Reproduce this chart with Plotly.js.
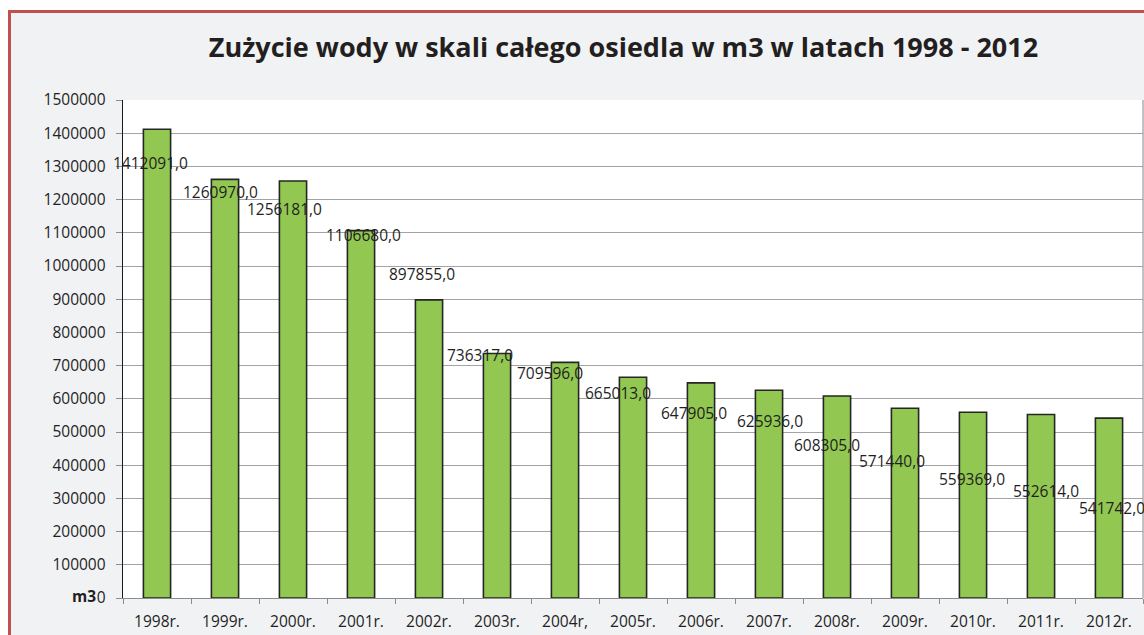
<!DOCTYPE html>
<html>
<head>
<meta charset="utf-8">
<script src="https://cdn.plot.ly/plotly-3.0.1.min.js"></script>
<style>
  html, body { margin: 0; padding: 0; background: #ffffff; overflow: hidden; }
  #frame { position: absolute; left: 8px; top: 10px; width: 1200px; height: 700px;
           border: 3px solid #c0504d; background: #f1f2f4; box-sizing: border-box; }
  #chart { position: absolute; left: 0; top: 0; width: 1144px; height: 635px; }
</style>
</head>
<body>
<div id="frame"></div>
<div id="chart"></div>
<script>
// ---- data ----
const categories = ["1998r.", "1999r.", "2000r.", "2001r.", "2002r.", "2003r.", "2004r,", "2005r.",
                    "2006r.", "2007r.", "2008r.", "2009r.", "2010r.", "2011r.", "2012r."];
const waterUse = [1412091, 1260970, 1256181, 1106680, 897855, 736317, 709596, 665013,
                  647905, 625936, 608305, 571440, 559369, 552614, 541742];
const yTickValues = [0, 100000, 200000, 300000, 400000, 500000, 600000, 700000, 800000,
                     900000, 1000000, 1100000, 1200000, 1300000, 1400000, 1500000];

// label placement offsets (pixels) as in the original
const labelDx = [-7, -5, -9, 2, -7, -17, -15, -15, -7, 1, -10, -13, -1, 5, 3];
const labelDy = [-34, -13, -28, -4, 26, -1, -11, -16, -30, -31, -49, -53, -67, -76, -90];

const fmt = v => String(v) + ",0";
const FONT = 'Open Sans, sans-serif';
const TXT = '#1f1f1f';

const annotations = waterUse.map((v, i) => ({
  x: categories[i], y: v, xref: 'x', yref: 'y',
  text: fmt(v), showarrow: false,
  xanchor: 'center', yanchor: 'middle',
  xshift: labelDx[i], yshift: labelDy[i],
  font: {family: FONT, size: 15.5, color: TXT}
}));
annotations.push({
  x: -0.0245, xref: 'paper', y: 0, yref: 'y', xanchor: 'right', yanchor: 'middle',
  yshift: 2, text: '<b>m3</b>', showarrow: false,
  font: {family: FONT, size: 15.5, color: TXT}
});

const trace = {
  type: 'bar',
  x: categories,
  y: waterUse,
  marker: {color: '#92c852', line: {color: '#262626', width: 1.6}},
  hoverinfo: 'x+y'
};

const layout = {
  width: 1144, height: 635,
  margin: {l: 123, r: 1, t: 100, b: 37, pad: 0},
  paper_bgcolor: 'rgba(0,0,0,0)',
  plot_bgcolor: '#ffffff',
  bargap: 0.6,
  showlegend: false,
  title: {
    text: 'Zużycie wody w skali całego osiedla w m3 w latach 1998 - 2012',
    font: {family: FONT, size: 27, color: '#231f20', weight: 'bold'},
    x: 0.545, xanchor: 'center', y: 0.925, yanchor: 'middle'
  },
  xaxis: {
    type: 'category',
    range: [-0.5, 14.5],
    automargin: false,
    showline: true, linecolor: '#8c8c8c', linewidth: 1,
    ticks: 'outside', tickson: 'boundaries', ticklen: 5, tickcolor: '#8c8c8c',
    showgrid: false, zeroline: false,
    tickfont: {family: FONT, size: 15.5, color: TXT},
    ticklabelstandoff: 9
  },
  yaxis: {
    range: [0, 1500000],
    automargin: false,
    tickvals: yTickValues,
    ticktext: yTickValues.map(v => String(v)),
    showline: true, linecolor: '#1a1a1a', linewidth: 1.3,
    ticks: 'outside', ticklen: 6, tickcolor: '#8c8c8c',
    showgrid: true, gridcolor: '#a3a3a3', gridwidth: 1,
    zeroline: false,
    tickfont: {family: FONT, size: 15.5, color: TXT},
    ticklabelstandoff: 7
  },
  shapes: [{
    type: 'line', xref: 'paper', yref: 'paper', x0: 1, x1: 1, y0: 0, y1: 1,
    line: {color: '#8c8c8c', width: 1}
  }],
  annotations: annotations
};

Plotly.newPlot('chart', [trace], layout, {staticPlot: true, displayModeBar: false});
</script>
</body>
</html>
